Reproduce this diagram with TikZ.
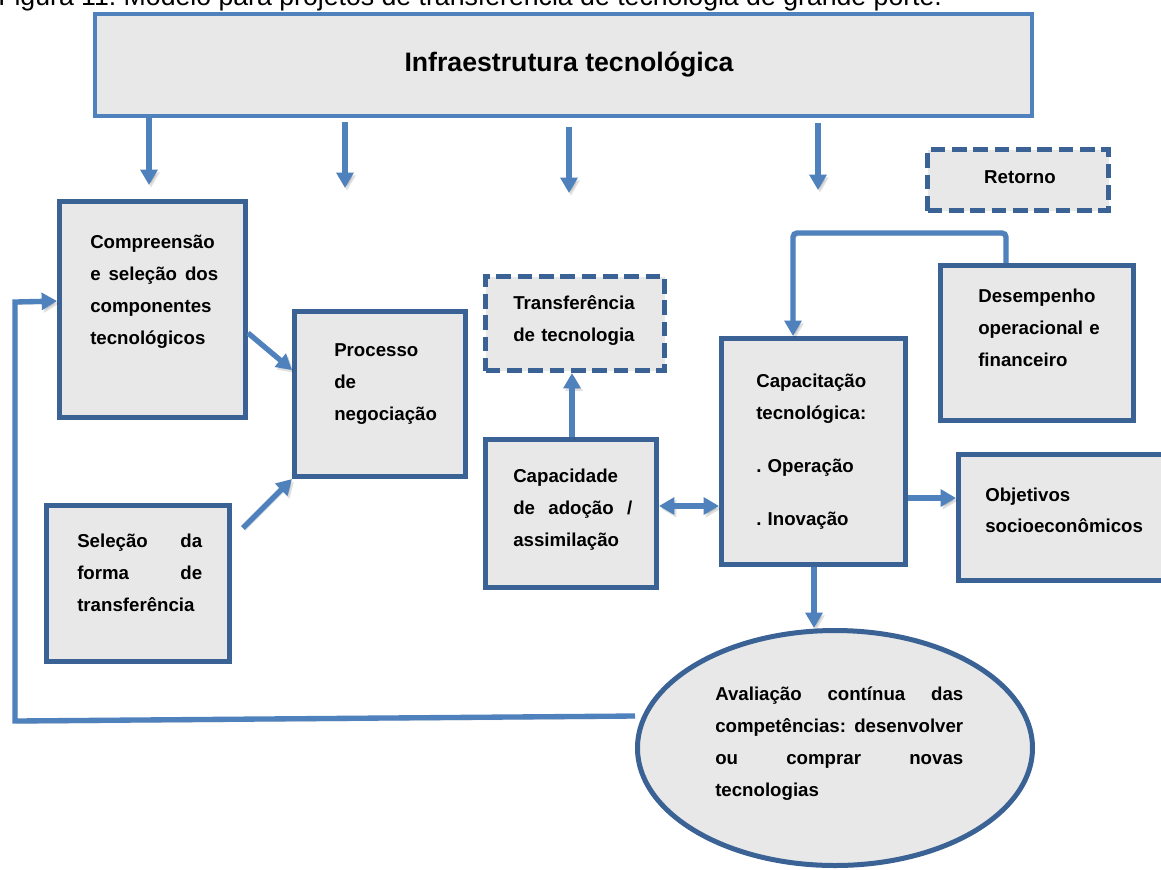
\documentclass[tikz,border=0pt]{standalone}
\usepackage{fontspec}
\setmainfont{Liberation Sans}
\usetikzlibrary{arrows.meta,fit,shapes.geometric}
\frenchspacing

\definecolor{boxline}{HTML}{3A6295}
\definecolor{arrowblue}{HTML}{4F81BD}
\definecolor{boxfill}{HTML}{E8E8E8}

\tikzset{
  box/.style={draw=boxline, line width=3.75pt, fill=boxfill, inner sep=0pt},
  dbox/.style={box, dash pattern=on 11pt off 5pt},
  lbl/.style={anchor=base west, inner sep=0pt, align=left,
              font=\bfseries\fontsize{14}{24}\selectfont},
  softshadow/.style={preaction={draw=black, opacity=0.12,
              transform canvas={xshift=1.5pt,yshift=-2pt}}},
  arr/.style={draw=arrowblue, line width=4pt, softshadow,
              -{Triangle[width=12.5pt,length=11.5pt]}},
  dblarr/.style={draw=arrowblue, line width=4pt, softshadow,
              {Triangle[width=12.5pt,length=11.5pt]}-{Triangle[width=12.5pt,length=11.5pt]}},
}

\begin{document}
\begin{tikzpicture}[x=0.75pt,y=-0.75pt]
\useasboundingbox (0,0) rectangle (1161,869);
\clip (0,0) rectangle (1161,869);
\fill[white] (0,0) rectangle (1161,869);

% caption line, cut by the top edge
\node[anchor=base west, inner sep=0pt, font=\fontsize{20}{24}\selectfont] (cap)
  at (-2,5) {Figura 11: Modelo para projetos de transferência de tecnologia de grande porte.};

% boxes
\node[box, draw=arrowblue, line width=3pt, fit={(95,14) (1032,116)}] (infra) {};
\node[dbox, fit={(927.5,149.5) (1108.5,210.5)}] (ret) {};
\node[box, fit={(59.5,201.5) (245.5,417.5)}] (comp) {};
\node[box, fit={(294.5,311.5) (465.5,476.5)}] (proc) {};
\node[dbox, fit={(485.5,276.5) (664.5,370.5)}] (trans) {};
\node[box, fit={(485.5,439.5) (656.5,587.5)}] (capac) {};
\node[box, fit={(721.5,338.5) (905.5,564.5)}] (capt) {};
\node[box, fit={(940.5,265.5) (1133.5,420.5)}] (desemp) {};
\node[box, fit={(958.5,454.5) (1175,580.5)}] (obj) {};
\node[box, fit={(46.5,505.5) (229.5,661.5)}] (selec) {};
\node[box, ellipse, minimum width=296.25pt, minimum height=176.25pt] (ell) at (835,748) {};

% texts
\node[anchor=base, inner sep=0pt, font=\bfseries\fontsize{20}{24}\selectfont] (title)
  at (569,71) {Infraestrutura tecnológica};
\node[anchor=base, inner sep=0pt, font=\bfseries\fontsize{14}{24}\selectfont] (tret)
  at (1020,183) {Retorno};
\node[lbl, text width=96pt] (tcomp) at (90,248)
  {Compreensão\\ e\hfill seleção\hfill dos\\ componentes\\ tecnológicos};
\node[lbl, text width=150pt] (tproc) at (334,356) {Processo\\ de\\ negociação};
\node[lbl, text width=140pt] (ttrans) at (513,309) {Transferência\\ de tecnologia};
\node[lbl, text width=89.25pt] (tcapac) at (513,482)
  {Capacidade\\ de\hfill adoção\hfill /\\ assimilação};
\node[lbl, text width=130pt] (tcapt) at (756,387)
  {Capacitação\\ tecnológica:\\[15.75pt] . Operação\\[15.75pt] . Inovação};
\node[lbl, text width=140pt] (tdesemp) at (978,302)
  {Desempenho\\ operacional e\\ financeiro};
\node[lbl, text width=140pt, font=\bfseries\fontsize{14}{23.25}\selectfont] (tobj) at (985,501)
  {Objetivos\\ socioeconômicos};
\node[lbl, text width=93.75pt] (tselec) at (77,547)
  {Seleção\hfill da\\ forma\hfill de\\ transferência};
\node[lbl, text width=186pt] (tell) at (715,700)
  {Avaliação\hfill contínua\hfill das\\ competências:\hfill desenvolver\\
   ou\hfill comprar\hfill novas\\ tecnologias};

% arrows from the infrastructure bar
\coordinate (a1e) at (149,185);
\coordinate (a2s) at (345,122);
\coordinate (a2e) at (345,188);
\coordinate (a3s) at (569,127);
\coordinate (a3e) at (569,193);
\coordinate (a4s) at (818,123);
\coordinate (a4e) at (818,190);
\draw[arr] (infra.south -| a1e) -- (a1e);
\draw[arr] (a2s) -- (a2e);
\draw[arr] (a3s) -- (a3e);
\draw[arr] (a4s) -- (a4e);

% flow between the boxes
\draw[arr] (comp.east |- 0,333) -- (proc.west |- 0,370);
\coordinate (s5) at (243,528);
\draw[arr] (s5) -- (proc.south west);
\draw[arr] (capac.north -| 572,0) -- (trans.south -| 572,0);
\draw[dblarr] (capac.east |- 0,506) -- (capt.west |- 0,506);
\draw[arr] (capt.east |- 0,498) -- (obj.west |- 0,498);
\draw[arr] (capt.south -| 814,0) -- (ell.north -| 814,0);

% feedback from performance to capability
\coordinate (rt) at (793,233);
\draw[arr, rounded corners=3pt] (desemp.north -| 1006,0) |- (rt) -- (capt.north -| rt);

% loop from the evaluation back to the first step
\coordinate (lb) at (15,721);
\coordinate (lt) at (15,302);
\draw[arr] (ell.west |- 0,716) -- (lb) -- (lt) -- (comp.west |- 0,301);

\end{tikzpicture}
\end{document}
